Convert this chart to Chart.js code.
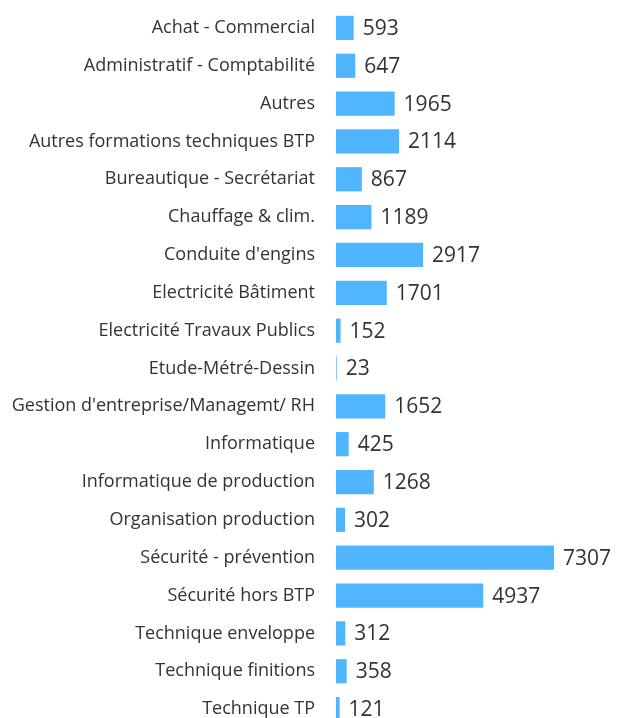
<!DOCTYPE html>
<html>
<head>
<meta charset="utf-8">
<script src="https://cdn.jsdelivr.net/npm/chart.js@4/dist/chart.umd.min.js"></script>
<style>
  html, body { margin: 0; padding: 0; background: #fff; overflow: hidden; }
  #wrap { position: relative; width: 617px; height: 728px; }
</style>
</head>
<body>
<div id="wrap"><canvas id="formationsChart"></canvas></div>
<script>
const categories = [
  "Achat - Commercial",
  "Administratif - Comptabilité",
  "Autres",
  "Autres formations techniques BTP",
  "Bureautique - Secrétariat",
  "Chauffage & clim.",
  "Conduite d'engins",
  "Electricité Bâtiment",
  "Electricité Travaux Publics",
  "Etude-Métré-Dessin",
  "Gestion d'entreprise/Managemt/ RH",
  "Informatique",
  "Informatique de production",
  "Organisation production",
  "Sécurité - prévention",
  "Sécurité hors BTP",
  "Technique enveloppe",
  "Technique finitions",
  "Technique TP"
];
const counts = [593, 647, 1965, 2114, 867, 1189, 2917, 1701, 152, 23, 1652, 425, 1268, 302, 7307, 4937, 312, 358, 121];

// draw the number just right of each bar
const valueLabels = {
  id: "valueLabels",
  afterDatasetsDraw(chart) {
    const { ctx } = chart;
    const meta = chart.getDatasetMeta(0);
    ctx.save();
    ctx.font = "21px 'Open Sans'";
    ctx.fillStyle = "#333";
    ctx.textBaseline = "middle";
    ctx.textAlign = "left";
    meta.data.forEach((bar, i) => {
      ctx.fillText(String(counts[i]), bar.x + 9, bar.y + 1);
    });
    ctx.restore();
  }
};

new Chart(document.getElementById("formationsChart"), {
  type: "bar",
  data: {
    labels: categories,
    datasets: [{
      data: counts,
      backgroundColor: "#4fb5fe",
      borderWidth: 0,
      categoryPercentage: 1,
      barPercentage: 0.64
    }]
  },
  options: {
    indexAxis: "y",
    responsive: true,
    maintainAspectRatio: false,
    animation: false,
    layout: { padding: { top: 9, right: 0, bottom: 0, left: 0 } },
    scales: {
      x: {
        display: false,
        min: 0,
        max: 9420
      },
      y: {
        grid: { display: false, drawTicks: false },
        border: { display: false },
        afterFit: scale => {
          scale.width = 336;
          scale.paddingTop = 0;
          scale.paddingBottom = 0;
        },
        ticks: {
          padding: 21,
          autoSkip: false,
          color: "#333",
          font: { family: "'Open Sans'", size: 18 }
        }
      }
    },
    plugins: {
      legend: { display: false },
      tooltip: { enabled: false }
    }
  },
  plugins: [valueLabels]
});
</script>
</body>
</html>
